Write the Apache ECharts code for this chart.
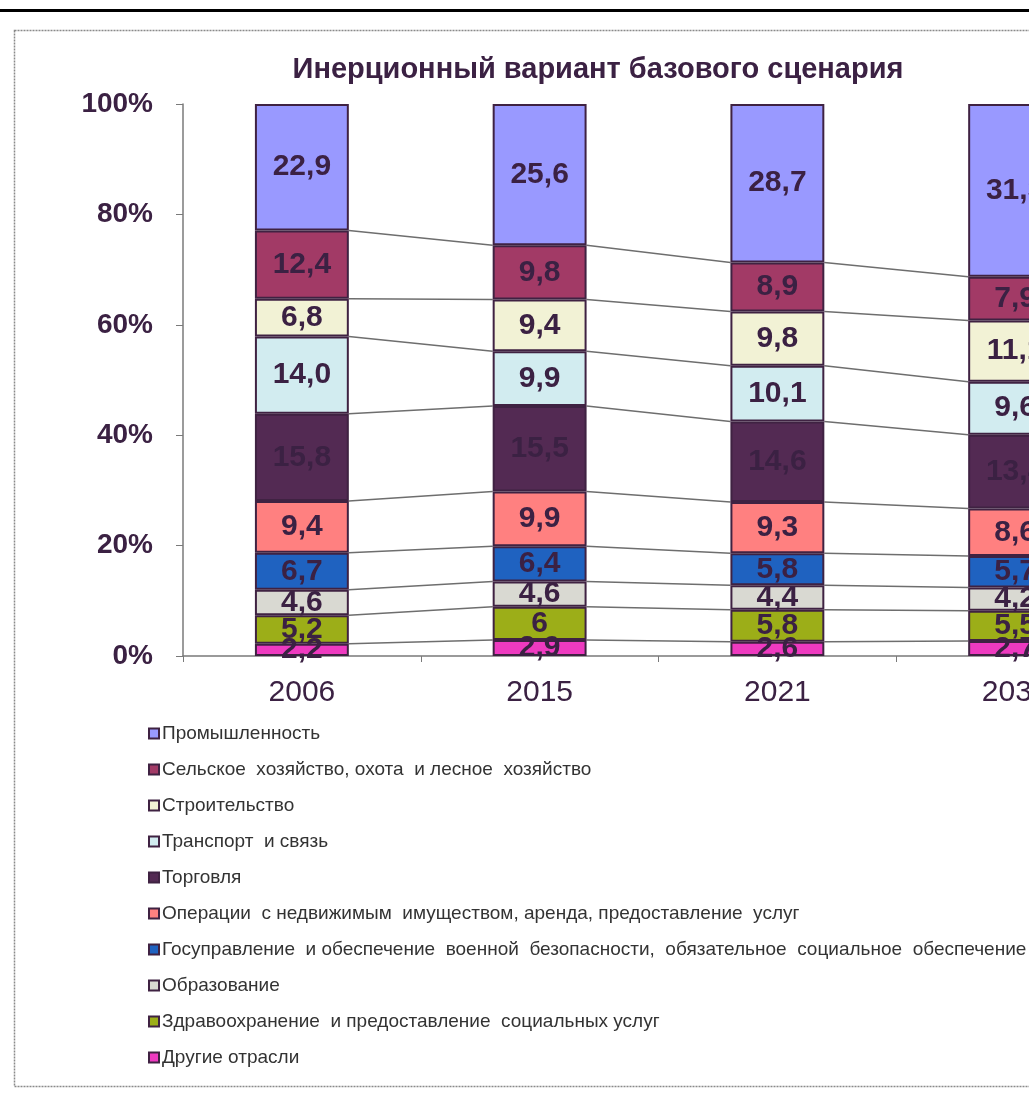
<!DOCTYPE html>
<html>
<head>
<meta charset="utf-8">
<script src="https://cdn.jsdelivr.net/npm/echarts@6/dist/echarts.min.js"></script>
<style>
html,body{margin:0;padding:0;background:#fff;overflow:hidden;}
#c{width:1200px;height:1110px;}
</style>
</head>
<body>
<div id="c"></div>
<script>
// ---- data ----
const categories = ['2006', '2015', '2021', '2030'];
const yTicks = [0, 20, 40, 60, 80, 100];
// values as printed (strings keep the original label text, e.g. "14,0" vs "6")
const other        = ['2.2', '2.9', '2.6', '2.7'];
const health       = ['5.2', '6',   '5.8', '5.5'];
const education    = ['4.6', '4.6', '4.4', '4.2'];
const government   = ['6.7', '6.4', '5.8', '5.7'];
const realEstate   = ['9.4', '9.9', '9.3', '8.6'];
const trade        = ['15.8', '15.5', '14.6', '13.4'];
const transport    = ['14.0', '9.9', '10.1', '9.6'];
const construction = ['6.8', '9.4', '9.8', '11.1'];
const agriculture  = ['12.4', '9.8', '8.9', '7.9'];
const industry     = ['22.9', '25.6', '28.7', '31.3'];

const seriesNames = [
  'Другие отрасли',
  'Здравоохранение  и предоставление  социальных услуг',
  'Образование',
  'Госуправление  и обеспечение  военной  безопасности,  обязательное  социальное  обеспечение',
  'Операции  с недвижимым  имуществом, аренда, предоставление  услуг',
  'Торговля',
  'Транспорт  и связь',
  'Строительство',
  'Сельское  хозяйство, охота  и лесное  хозяйство',
  'Промышленность'
];
const seriesValues = [other, health, education, government, realEstate, trade, transport, construction, agriculture, industry];
const seriesColors = ['#ee3ac0', '#9cae18', '#d9d9d2', '#1f62c0', '#ff8080', '#532a53', '#d2ecf0', '#f2f2d5', '#a23a66', '#9999ff'];

// ---- build ----
const TXT = '#3b2143';
const BORDER = '#3f2242';
const BAR_W = 0.395;

const nums = seriesValues.map(a => a.map(s => parseFloat(s)));
const cum = categories.map((c, i) => {
  let acc = 0;
  return nums.map(arr => (acc += arr[i]));
});

const barSeries = seriesNames.map((name, k) => ({
  name: name,
  type: 'bar',
  stack: 'total',
  barWidth: (BAR_W * 100) + '%',
  data: nums[k],
  itemStyle: { color: seriesColors[k], borderColor: BORDER, borderWidth: 2 },
  label: {
    show: true,
    position: 'inside',
    color: TXT,
    fontFamily: 'Liberation Sans, Arial, sans-serif',
    fontWeight: 'bold',
    fontSize: 30,
    formatter: p => seriesValues[k][p.dataIndex].replace('.', ',')
  },
  emphasis: { disabled: true },
  z: 3
}));

const connectorSeries = {
  type: 'custom',
  silent: true,
  z: 2,
  data: categories.map((c, i) => [i, 0]),
  encode: { x: 0, y: 1 },
  renderItem: function (params, api) {
    const i = params.dataIndex;
    if (i >= categories.length - 1) return null;
    const half = api.size([1, 0])[0] * BAR_W / 2;
    const children = [];
    for (let k = 0; k < seriesNames.length - 1; k++) {
      const p0 = api.coord([i, cum[i][k]]);
      const p1 = api.coord([i + 1, cum[i + 1][k]]);
      children.push({
        type: 'line',
        shape: { x1: p0[0] + half, y1: p0[1], x2: p1[0] - half, y2: p1[1] },
        style: { stroke: '#6e6e6e', lineWidth: 1.5 }
      });
    }
    return { type: 'group', children: children };
  }
};

const chart = echarts.init(document.getElementById('c'), null, { renderer: 'canvas' });
chart.setOption({
  animation: false,
  backgroundColor: '#fff',
  title: {
    text: 'Инерционный вариант базового сценария',
    left: 593,
    textAlign: 'center',
    top: 50,
    textStyle: { color: TXT, fontFamily: 'Liberation Sans, Arial, sans-serif', fontWeight: 'bold', fontSize: 29 }
  },
  graphic: [
    { type: 'rect', shape: { x: 0, y: 9, width: 1200, height: 3 }, style: { fill: '#000' }, silent: true },
    { type: 'rect', shape: { x: 14.5, y: 30.5, width: 1300, height: 1056 }, style: { fill: 'none', stroke: '#8a8a8a', lineWidth: 1.5, lineDash: [2, 1] }, silent: true }
  ],
  grid: { left: 183, top: 104, width: 951, height: 552 },
  legend: {
    orient: 'vertical',
    left: 143,
    top: 719,
    itemWidth: 10,
    itemHeight: 10,
    itemGap: 17,
    icon: 'rect',
    selectedMode: false,
    data: seriesNames.slice().reverse(),
    textStyle: { color: '#333', fontFamily: 'Liberation Sans, Arial, sans-serif', fontSize: 19, lineHeight: 19, padding: [0, 0, 0, -2] }
  },
  xAxis: {
    type: 'category',
    data: categories,
    axisLine: { lineStyle: { color: '#7a7a7a', width: 1.5 } },
    axisTick: { show: true, length: 6, lineStyle: { color: '#7a7a7a' } },
    axisLabel: { color: TXT, fontFamily: 'Liberation Sans, Arial, sans-serif', fontSize: 30, margin: 22 }
  },
  yAxis: {
    type: 'value',
    min: yTicks[0],
    max: yTicks[yTicks.length - 1],
    interval: yTicks[1] - yTicks[0],
    splitLine: { show: false },
    axisLine: { show: true, lineStyle: { color: '#7a7a7a', width: 1.5 } },
    axisTick: { show: true, length: 7, lineStyle: { color: '#7a7a7a' } },
    axisLabel: { color: TXT, fontFamily: 'Liberation Sans, Arial, sans-serif', fontWeight: 'bold', fontSize: 28, margin: 30, formatter: '{value}%' }
  },
  series: barSeries.concat([connectorSeries])
});
</script>
</body>
</html>
